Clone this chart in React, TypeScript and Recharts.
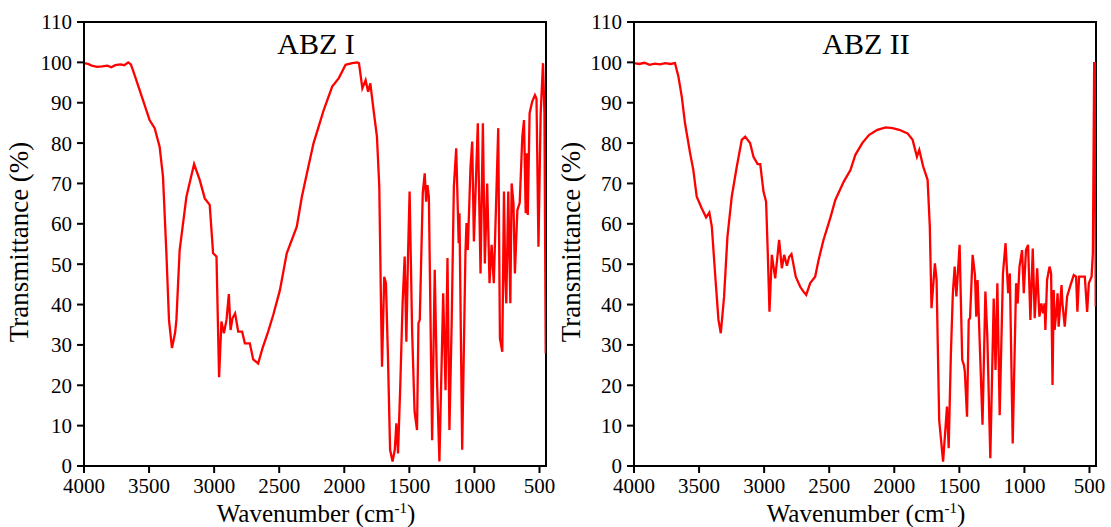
import { LineChart, Line, XAxis, YAxis, ReferenceArea } from 'recharts';

// ABZ I spectrum: wavenumber (cm-1) and transmittance (%)
const wnI = [
  4000, 3970, 3940, 3900, 3860, 3820, 3790, 3760, 3720, 3690, 3660, 3640, 3624, 3573, 3496, 3457, 3419,
  3393, 3367, 3347, 3324, 3300, 3290, 3265, 3213, 3154, 3111, 3072, 3034, 3008, 2982, 2962, 2944, 2925,
  2905, 2887, 2874, 2859, 2839, 2815, 2785, 2764, 2726, 2700, 2662, 2628, 2585, 2546, 2495, 2442, 2365,
  2326, 2287, 2236, 2197, 2158, 2093, 2042, 1990, 1939, 1900, 1887, 1861, 1836, 1817, 1800, 1775, 1749,
  1731, 1718, 1710, 1693, 1680, 1665, 1648, 1629, 1612, 1600, 1587, 1570, 1552, 1536, 1523, 1510, 1498,
  1479, 1460, 1441, 1430, 1420, 1397, 1382, 1371, 1361, 1350, 1325, 1305, 1290, 1269, 1240, 1222, 1207,
  1192, 1175, 1158, 1140, 1121, 1115, 1094, 1069, 1061, 1051, 1030, 1017, 1004, 974, 953, 935, 920, 902,
  884, 868, 851, 817, 804, 786, 773, 763, 755, 740, 724, 714, 700, 689, 670, 652, 632, 619, 606, 598, 590,
  576, 556, 535, 523, 508, 491, 473, 462, 452,
];
const transI = [
  99.8, 99.6, 99.2, 98.9, 99.0, 99.2, 98.8, 99.3, 99.5, 99.3, 100, 99.5, 98.1, 93.2, 85.7, 83.7, 79.1,
  71.7, 52.8, 36.2, 29.2, 33, 36.2, 53.5, 66.7, 74.8, 70.9, 66.3, 64.7, 52.7, 51.9, 22.0, 35.8, 32.9,
  36.2, 42.6, 33.7, 36.6, 37.8, 33.3, 33.3, 30.4, 30.4, 26.4, 25.4, 29.2, 33.3, 37.4, 43.5, 52.7, 59.3,
  66.7, 72.5, 80.0, 84.1, 88.2, 94.0, 96.1, 99.4, 99.8, 100, 99.8, 93.6, 95.6, 92.7, 94.8, 88.2, 81.6,
  69.2, 40.3, 24.6, 46.9, 45.3, 27.9, 4.0, 1.1, 4.0, 10.6, 3.1, 19.7, 40.3, 51.9, 30.8, 52.7, 68.0,
  33.7, 13.5, 8.9, 35.4, 36.2, 67.6, 72.5, 65.5, 69.6, 66.7, 6.4, 48.6, 24, 1.1, 42.8, 18.8, 51.5,
  8.9, 35.2, 69.2, 78.7, 55.2, 62.6, 4.0, 52.7, 60.2, 53.5, 74.2, 80.4, 55.6, 84.9, 47.7, 84.9, 50.2, 70.0,
  45.3, 54.8, 45.3, 83.7, 31.6, 28.3, 68.0, 46.9, 40.3, 68.0, 40.3, 70.0, 65, 47.7, 63.4, 65.2, 81.6, 85.7, 62.6, 77.5, 62.2,
  87.4, 90.3, 91.9, 91, 54.3, 87.4, 99.8, 87.4, 27.9,
];

// ABZ II spectrum
const wnII = [
  4000, 3960, 3920, 3880, 3840, 3800, 3760, 3720, 3685, 3659, 3633, 3608, 3569, 3544, 3518, 3479, 3446,
  3421, 3402, 3377, 3351, 3333, 3308, 3282, 3249, 3210, 3172, 3146, 3108, 3082, 3050, 3030, 3005, 2985,
  2972, 2959, 2941, 2915, 2885, 2864, 2846, 2825, 2808, 2790, 2757, 2723, 2698, 2677, 2646, 2608, 2582,
  2544, 2492, 2453, 2389, 2337, 2299, 2246, 2195, 2130, 2065, 2014, 1962, 1898, 1859, 1826, 1808, 1778,
  1744, 1727, 1714, 1688, 1675, 1655, 1625, 1595, 1582, 1565, 1550, 1536, 1523, 1498, 1478, 1465, 1458,
  1441, 1428, 1418, 1398, 1380, 1370, 1360, 1322, 1300, 1285, 1262, 1236, 1222, 1208, 1190, 1165, 1145,
  1125, 1112, 1090, 1064, 1052, 1038, 1018, 1005, 988, 972, 954, 936, 921, 902, 885, 870, 857, 845, 839,
  826, 807, 795, 784, 775, 768, 756, 745, 737, 715, 708, 690, 672, 646, 621, 603, 593, 580, 536, 518, 505,
  484, 474, 464, 457, 452,
];
const transII = [
  99.8, 99.6, 99.9, 99.4, 99.7, 99.5, 99.8, 99.6, 99.8, 96.5, 91.5, 84.9, 77.5, 73.3, 66.7, 63.8, 61.6,
  62.8, 59.3, 47.7, 36.2, 32.9, 41.9, 56.8, 66.7, 74.2, 80.8, 81.6, 80.0, 76.6, 74.8, 74.8, 68.0, 65.5,
  52.7, 38.2, 52.3, 46.5, 56.0, 49.0, 52.3, 49.6, 51.8, 52.5, 46.9, 44.4, 43.2, 42.4, 45.3, 46.9, 51.0,
  56.0, 61.4, 65.9, 70.4, 73.3, 77.1, 80.0, 82.0, 83.3, 83.9, 83.7, 83.3, 82.4, 80.8, 76.6, 78.3, 74.2,
  70.9, 59.3, 39.1, 50.2, 46.1, 11.4, 1.1, 14.7, 4.4, 27.9, 42.8, 49.4, 42.0, 54.8, 26.3, 25, 23.4,
  12.2, 36.2, 36.6, 52.3, 47.3, 37.0, 46.1, 10.2, 43.2, 32, 1.9, 41.5, 23.8, 45.3, 12.6, 47.7, 55.2,
  42.8, 47.7, 5.6, 45.3, 40.3, 49.4, 53.5, 42.8, 53.5, 54.8, 36.2, 53.9, 36.6, 49.0, 37.0, 40.3, 37.8, 40.3, 33.7,
  46.1, 49.4, 47.7, 20.1, 43.6, 33.7, 37.8, 42.8, 34.5, 44.8, 40.3, 34.5, 42, 44.8, 47.3, 46.9, 38.2, 46.9, 46.9, 38.2, 45.3,
  46.9, 52.7, 99.8, 99.8, 39.5,
];

const xTicks = [4000, 3500, 3000, 2500, 2000, 1500, 1000, 500];
const yTicks = [0, 10, 20, 30, 40, 50, 60, 70, 80, 90, 100, 110];

const toRows = (wn: number[], t: number[]) => wn.map((w, i) => ({ wn: w, t: t[i] }));

const FONT = '"Liberation Serif", "Times New Roman", serif';
const tickStyle = { fill: '#000', fontSize: 21, fontFamily: FONT };

function Spectrum({ data, left }: { data: { wn: number; t: number }[]; left: number }) {
  return (
    <div style={{ position: 'absolute', left, top: 0 }}>
      <LineChart width={555} height={527} data={data} margin={{ top: 22, right: 9, left: 0, bottom: 0 }}>
        <XAxis
          dataKey="wn"
          type="number"
          domain={[450, 4000]}
          reversed
          allowDataOverflow
          ticks={xTicks}
          interval={0}
          height={61}
          tickSize={7}
          tickMargin={5}
          tick={tickStyle}
          axisLine={{ stroke: '#000', strokeWidth: 2 }}
          tickLine={{ stroke: '#000', strokeWidth: 2 }}
        />
        <YAxis
          type="number"
          domain={[0, 110]}
          ticks={yTicks}
          interval={0}
          width={84}
          tickSize={7}
          tickMargin={5}
          tick={tickStyle}
          axisLine={{ stroke: '#000', strokeWidth: 2 }}
          tickLine={{ stroke: '#000', strokeWidth: 2 }}
        />
        <ReferenceArea x1={450} x2={4000} y1={0} y2={110} fill="none" stroke="#000" strokeWidth={2} />
        <Line
          type="linear"
          dataKey="t"
          stroke="#ff0000"
          strokeWidth={2.3}
          dot={false}
          isAnimationActive={false}
        />
      </LineChart>
    </div>
  );
}

function Labels() {
  const panels = [
    { title: 'ABZ I', cx: 316, yl: 28 },
    { title: 'ABZ II', cx: 866, yl: 580 },
  ];
  return (
    <svg width={1111} height={527} style={{ position: 'absolute', left: 0, top: 0, pointerEvents: 'none' }}>
      {panels.map((p) => (
        <g key={p.title} fontFamily={FONT} fill="#000">
          <text x={p.cx} y={54} fontSize={30} textAnchor="middle">
            {p.title}
          </text>
          <text x={p.cx} y={522} fontSize={25} textAnchor="middle">
            Wavenumber (cm
            <tspan dy={-9} fontSize={15}>
              -1
            </tspan>
            <tspan dy={9}>)</tspan>
          </text>
          <text
            x={p.yl}
            y={242}
            fontSize={27}
            textAnchor="middle"
            transform={`rotate(-90 ${p.yl} 242)`}
          >
            Transmittance (%)
          </text>
        </g>
      ))}
    </svg>
  );
}

export default function App() {
  return (
    <div style={{ position: 'absolute', left: 0, top: 0, width: 1111, height: 527, background: '#fff' }}>
      <Spectrum data={toRows(wnI, transI)} left={0} />
      <Spectrum data={toRows(wnII, transII)} left={550} />
      <Labels />
    </div>
  );
}
